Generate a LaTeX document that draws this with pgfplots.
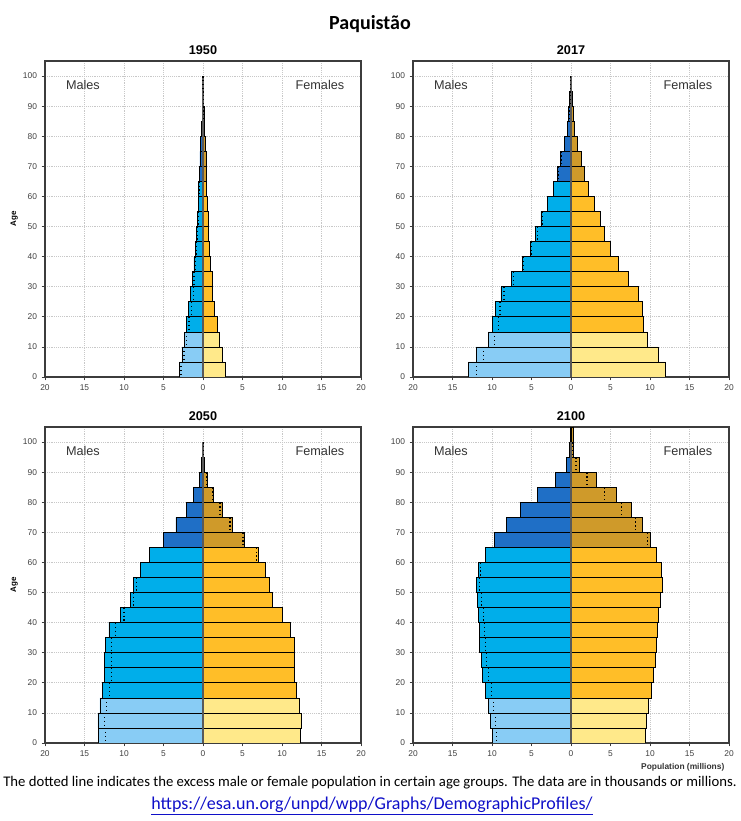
\documentclass[border=0pt]{standalone}
\usepackage{pgfplots}
\pgfplotsset{compat=1.18}
\usepackage{pgfplotstable}
\usepackage{fontspec}
\setmainfont{Liberation Sans}
\newfontfamily\calfont{Carlito}

\definecolor{myoung}{HTML}{88CCF5}
\definecolor{mwork}{HTML}{00AEEA}
\definecolor{mold}{HTML}{1F6FC6}
\definecolor{fyoung}{HTML}{FFE98A}
\definecolor{fwork}{HTML}{FFBE28}
\definecolor{fold}{HTML}{CF9A2A}
\definecolor{gridc}{HTML}{C8C8C8}
\definecolor{framec}{HTML}{3C3C3C}
\definecolor{linkc}{HTML}{1010C8}

% y = centre of age group, m = males, f = females (millions)
\pgfplotstableread{
y m f
2.5 3.00 2.78
7.5 2.66 2.41
12.5 2.32 2.07
17.5 2.11 1.77
22.5 1.81 1.48
27.5 1.60 1.22
32.5 1.35 1.14
37.5 1.14 0.93
42.5 1.01 0.84
47.5 0.84 0.68
52.5 0.66 0.62
57.5 0.63 0.55
62.5 0.55 0.46
67.5 0.46 0.42
72.5 0.40 0.36
77.5 0.30 0.28
82.5 0.18 0.20
87.5 0.08 0.17
92.5 0.04 0.10
97.5 0.01 0.02
}\tA

\pgfplotstableread{
y m f
2.5 13.00 12.00
7.5 12.00 11.05
12.5 10.50 9.66
17.5 10.00 9.16
22.5 9.60 8.99
27.5 8.87 8.49
32.5 7.56 7.23
37.5 6.20 6.00
42.5 5.10 4.96
47.5 4.50 4.24
52.5 3.80 3.66
57.5 3.00 2.95
62.5 2.23 2.23
67.5 1.72 1.64
72.5 1.39 1.26
77.5 0.88 0.84
82.5 0.46 0.42
87.5 0.30 0.25
92.5 0.17 0.13
97.5 0.08 0.04
}\tB

\pgfplotstableread{
y m f
2.5 13.19 12.32
7.5 13.30 12.45
12.5 13.05 12.20
17.5 12.68 11.86
22.5 12.47 11.60
27.5 12.47 11.60
32.5 12.34 11.60
37.5 11.90 11.10
42.5 10.50 10.00
47.5 9.20 8.75
52.5 8.78 8.45
57.5 7.93 7.95
62.5 6.75 6.95
67.5 5.06 5.20
72.5 3.42 3.76
77.5 2.15 2.45
82.5 1.22 1.35
87.5 0.46 0.50
92.5 0.17 0.20
97.5 0.05 0.06
}\tC

\pgfplotstableread{
y m f
2.5 9.99 9.44
7.5 10.24 9.52
12.5 10.49 9.82
17.5 10.79 10.11
22.5 11.17 10.45
27.5 11.38 10.66
32.5 11.55 10.83
37.5 11.63 10.96
42.5 11.71 11.04
47.5 11.88 11.29
52.5 11.97 11.59
57.5 11.71 11.46
62.5 10.79 10.83
67.5 9.69 10.03
72.5 8.18 9.06
77.5 6.40 7.63
82.5 4.26 5.69
87.5 2.02 3.16
92.5 0.63 1.10
97.5 0.20 0.30
102.5 0.08 0.25
}\tD

\pgfplotsset{
  pyr/.style={
    scale only axis, width=237pt, height=237pt,
    xmin=-20, xmax=20, ymin=0, ymax=105,
    xtick={-20,-15,...,20}, xticklabels={20,15,10,5,0,5,10,15,20},
    ytick={0,10,...,100},
    grid=major, major grid style={densely dotted, gridc, line width=0.5pt},
    axis line style={framec, line width=0.8pt},
    tick align=outside, major tick length=2.5pt,
    tick style={framec, line width=0.5pt},
    tick pos=left,
    ticklabel style={font=\fontsize{6.3}{7}\selectfont, text=black!75},
    /pgf/number format/assume math mode=true,
    title style={font=\bfseries\fontsize{9.5}{11}\selectfont, yshift=-5pt},
    ylabel style={font=\bfseries\fontsize{6}{7}\selectfont, yshift=-3pt},
  },
  pbar/.style={xbar, bar width=5, bar shift=0pt, draw=black, line width=0.5pt},
}

\newcommand{\pyramid}[1]{%
  \addplot[pbar, fill=myoung, restrict y to domain=0:15] table[x expr=-\thisrow{m}, y=y] {#1};
  \addplot[pbar, fill=mwork, restrict y to domain=15:65] table[x expr=-\thisrow{m}, y=y] {#1};
  \addplot[pbar, fill=mold, restrict y to domain=65:110] table[x expr=-\thisrow{m}, y=y] {#1};
  \addplot[pbar, fill=fyoung, restrict y to domain=0:15] table[x=f, y=y] {#1};
  \addplot[pbar, fill=fwork, restrict y to domain=15:65] table[x=f, y=y] {#1};
  \addplot[pbar, fill=fold, restrict y to domain=65:110] table[x=f, y=y] {#1};
  \addplot[only marks, mark=|, mark size=5.4pt,
    mark options={dotted, black, line width=0.9pt}]
    table[x expr={\thisrow{m}>\thisrow{f} ? -\thisrow{f} : \thisrow{m}}, y=y] {#1};
  \addplot[framec!85, line width=0.8pt] coordinates {(0,0) (0,100)};
  \node[font=\fontsize{9.5}{11}\selectfont, text=black!80] at (axis cs:-15.2,97) {Males};
  \node[font=\fontsize{9.5}{11}\selectfont, text=black!80] at (axis cs:14.8,97) {Females};
}

\begin{document}
\begin{tikzpicture}
\path[use as bounding box] (0,0) rectangle (555pt,615.75pt);

\node[font=\calfont\bfseries\fontsize{15}{18}\selectfont] at (277.5pt,598pt) {Paquistão};

\begin{axis}[pyr, at={(33.75pt,333pt)}, anchor=south west, title={1950}, ylabel={Age}]
\pyramid{\tA}
\end{axis}

\begin{axis}[pyr, at={(309.75pt,333pt)}, anchor=south west, title={2017}]
\pyramid{\tB}
\end{axis}

\begin{axis}[pyr, at={(33.75pt,58.5pt)}, anchor=south west, title={2050}, ylabel={Age}]
\pyramid{\tC}
\end{axis}

\begin{axis}[pyr, at={(309.75pt,58.5pt)}, anchor=south west, title={2100}, name=ax4]
\pyramid{\tD}
\end{axis}

\node[anchor=east, font=\bfseries\fontsize{6.3}{7}\selectfont, text=black!80] at ([yshift=-18.5pt]ax4.south east) {Population (millions)};

\node at (277.5pt,29pt) {\resizebox{550pt}{!}{\calfont\fontsize{10}{12}\selectfont The dotted line indicates the excess male or female population in certain age groups. The data are in thousands or millions.}};

\node at (279pt,11.25pt) {\resizebox{331pt}{!}{\calfont\fontsize{12}{14}\selectfont\color{linkc}\underline{https://esa.un.org/unpd/wpp/Graphs/DemographicProfiles/}}};
\end{tikzpicture}
\end{document}
